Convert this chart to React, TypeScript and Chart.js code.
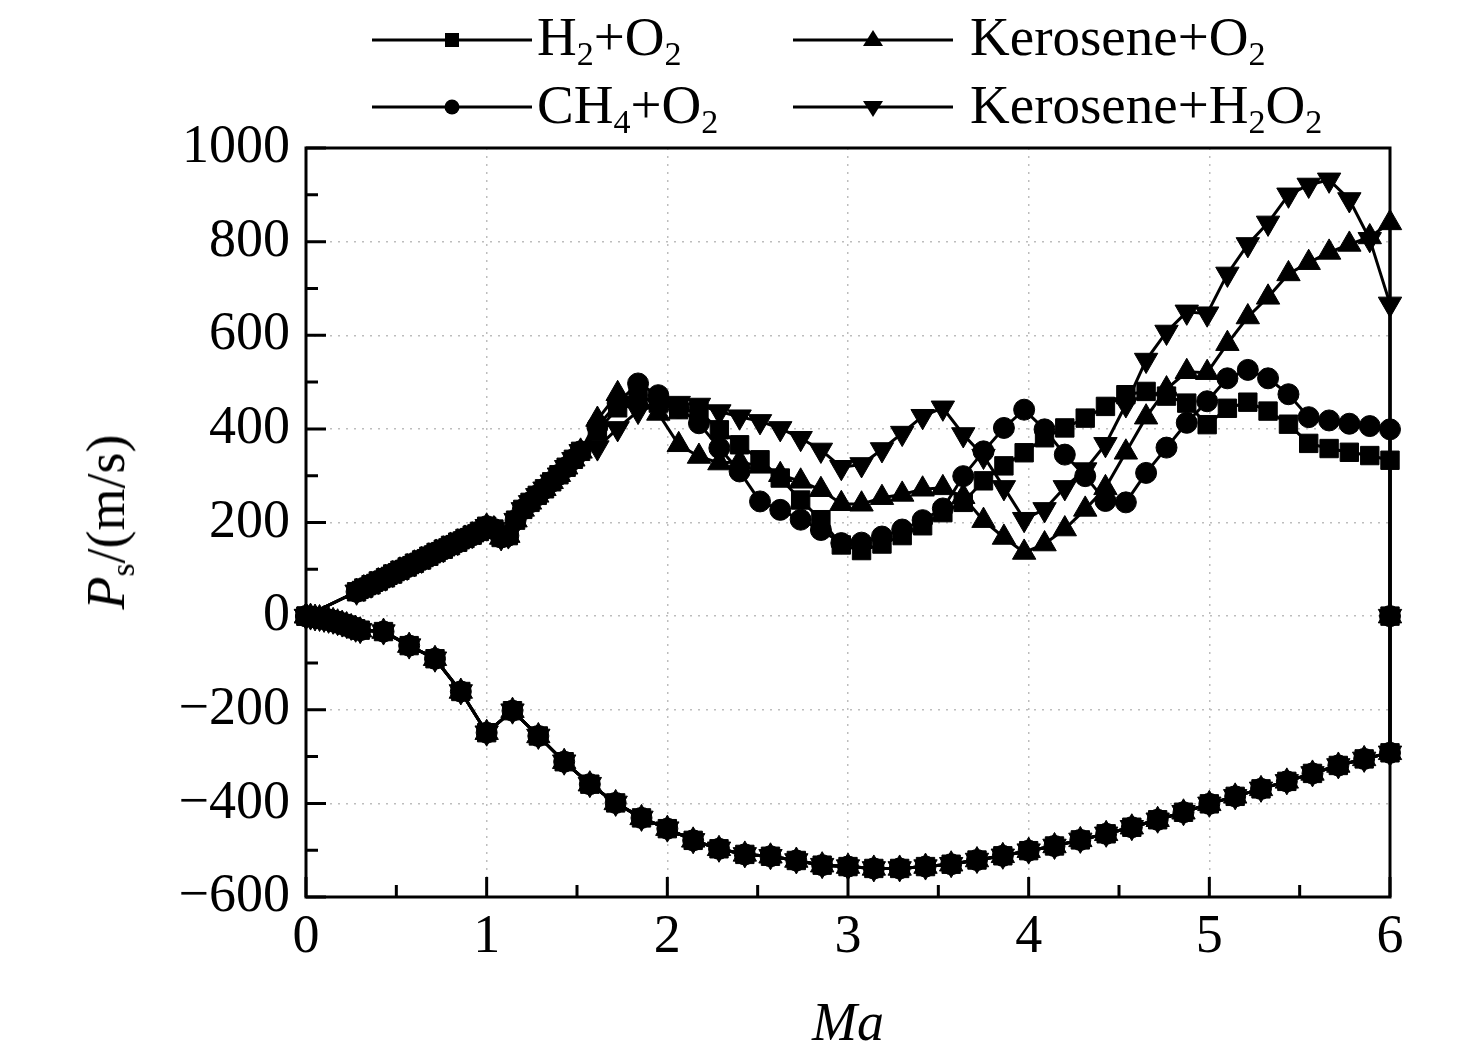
import React, { useEffect, useRef } from 'react';
import { Chart, registerables } from 'chart.js';

Chart.register(...registerables);

// axis ticks
const X_TICKS = [0, 1, 2, 3, 4, 5, 6];
const X_MINOR = [0.5, 1.5, 2.5, 3.5, 4.5, 5.5];
const Y_TICKS = [-600, -400, -200, 0, 200, 400, 600, 800, 1000];
const Y_MINOR = [-500, -300, -100, 100, 300, 500, 700, 900];

// lower branch (all four mixtures coincide), dense start
const lowDenseMa = [0, 0.025, 0.05, 0.075, 0.1, 0.125, 0.15, 0.175, 0.2, 0.225, 0.25, 0.275, 0.3];
const lowDensePs = [0, -1, -3, -4, -6, -8, -10, -13, -16, -19, -23, -27, -30];

// lower branch, coarse part
const lowMa = [0.429, 0.571, 0.714, 0.857, 1.0, 1.143, 1.286, 1.429, 1.571, 1.714, 1.857, 2.0, 2.143, 2.286,
  2.429, 2.571, 2.714, 2.857, 3.0, 3.143, 3.286, 3.429, 3.571, 3.714, 3.857, 4.0, 4.143, 4.286, 4.429,
  4.571, 4.714, 4.857, 5.0, 5.143, 5.286, 5.429, 5.571, 5.714, 5.857, 6.0];
const lowPs = [-33, -63, -91, -161, -249, -202, -256, -311, -359, -399, -431, -454, -479, -497,
  -509, -513, -522, -532, -535, -539, -539, -535, -530, -521, -512, -501, -491, -478, -465,
  -451, -435, -419, -401, -385, -369, -353, -336, -319, -305, -292];

// turning point at Ma = 6
const turnMa = [6];
const turnPs = [0];

// upper branch, common dense part
const upDenseMa = [0.28, 0.32, 0.36, 0.40, 0.44, 0.48, 0.52, 0.56, 0.60, 0.64, 0.68, 0.72, 0.76, 0.80,
  0.84, 0.88, 0.92, 0.96, 1.00, 1.04, 1.08, 1.12, 1.16, 1.20, 1.24, 1.28, 1.32, 1.36, 1.40, 1.44, 1.48, 1.52];
const upDensePs = [52, 60, 67, 75, 82, 90, 98, 105, 113, 120, 128, 136, 143, 151,
  158, 166, 173, 181, 192, 186, 168, 172, 205, 228, 243, 258, 272, 287, 302, 318, 335, 352];

// upper branch, per mixture
const upMa = [1.613, 1.725, 1.838, 1.95, 2.063, 2.175, 2.288, 2.4, 2.513, 2.625, 2.738, 2.85, 2.963,
  3.075, 3.188, 3.3, 3.413, 3.525, 3.638, 3.75, 3.863, 3.975, 4.088, 4.2, 4.313, 4.425, 4.538, 4.65,
  4.763, 4.875, 4.988, 5.1, 5.213, 5.325, 5.438, 5.55, 5.663, 5.775, 5.888, 6.0];
const h2Ps = [395, 445, 470, 455, 441, 437, 398, 366, 334, 295, 248, 206, 152,
  140, 154, 172, 193, 221, 243, 289, 321, 349, 381, 402, 423, 448, 473, 480,
  470, 455, 409, 444, 457, 438, 410, 369, 358, 350, 343, 333];
const ch4Ps = [405, 455, 497, 472, 445, 412, 359, 309, 245, 227, 206, 184, 156,
  157, 170, 185, 205, 230, 299, 352, 402, 441, 399, 345, 299, 246, 243, 306,
  360, 413, 459, 508, 526, 508, 474, 425, 418, 411, 406, 399];
const keroO2Ps = [420, 475, 460, 433, 366, 341, 327, 330, 320, 302, 288, 270, 240,
  239, 253, 260, 271, 274, 255, 204, 168, 136, 154, 186, 228, 274, 350, 425,
  485, 522, 520, 582, 639, 681, 731, 755, 777, 794, 810, 840];
const keroH2o2Ps = [360, 401, 438, 451, 455, 451, 437, 426, 416, 401, 380, 355, 318,
  324, 356, 391, 427, 445, 388, 342, 275, 207, 228, 275, 313, 367, 452, 547,
  607, 650, 646, 731, 794, 840, 900, 921, 932, 890, 805, 667];

const SERIF = '"Liberation Serif", "Times New Roman", serif';

const buildPoints = (upper: number[]) => {
  const pts: { x: number; y: number }[] = [];
  lowDenseMa.forEach((m, i) => pts.push({ x: m, y: lowDensePs[i] }));
  lowMa.forEach((m, i) => pts.push({ x: m, y: lowPs[i] }));
  turnMa.forEach((m, i) => pts.push({ x: m, y: turnPs[i] }));
  for (let i = upMa.length - 1; i >= 0; i--) pts.push({ x: upMa[i], y: upper[i] });
  for (let i = upDenseMa.length - 1; i >= 0; i--) pts.push({ x: upDenseMa[i], y: upDensePs[i] });
  pts.push({ x: lowDenseMa[0], y: lowDensePs[0] });
  return pts;
};

const framePlugin = {
  id: 'frame',
  beforeDatasetsDraw(chart: any) {
    const { ctx, chartArea, scales } = chart;
    const { left, right, top, bottom } = chartArea;
    ctx.save();
    ctx.strokeStyle = '#000';
    ctx.lineWidth = 3;
    ctx.beginPath();
    X_TICKS.forEach((v) => {
      const px = scales.x.getPixelForValue(v);
      ctx.moveTo(px, bottom);
      ctx.lineTo(px, bottom - 20);
    });
    X_MINOR.forEach((v) => {
      const px = scales.x.getPixelForValue(v);
      ctx.moveTo(px, bottom);
      ctx.lineTo(px, bottom - 12);
    });
    Y_TICKS.forEach((v) => {
      const py = scales.y.getPixelForValue(v);
      ctx.moveTo(left, py);
      ctx.lineTo(left + 20, py);
    });
    Y_MINOR.forEach((v) => {
      const py = scales.y.getPixelForValue(v);
      ctx.moveTo(left, py);
      ctx.lineTo(left + 12, py);
    });
    ctx.stroke();
    ctx.strokeRect(left, top, right - left, bottom - top);
    ctx.restore();
  },
};

const gridColor = (c: any) =>
  c.tick && (c.index === 0 || c.index === c.scale.ticks.length - 1) ? 'rgba(0,0,0,0)' : '#bdbdbd';

const LegendMark: React.FC<{ kind: string }> = ({ kind }) => {
  let mark: React.ReactNode = null;
  if (kind === 'rect') mark = <rect x={73} y={8} width={14} height={14} fill="#000" />;
  if (kind === 'circle') mark = <circle cx={80} cy={15} r={7.5} fill="#000" />;
  if (kind === 'up') mark = <polygon points="80,5 90,21 70,21" fill="#000" />;
  if (kind === 'down') mark = <polygon points="80,25 90,9 70,9" fill="#000" />;
  return (
    <svg width={160} height={30} style={{ display: 'block' }}>
      <line x1={0} y1={15} x2={160} y2={15} stroke="#000" strokeWidth={3} />
      {mark}
    </svg>
  );
};

const subStyle: React.CSSProperties = { fontSize: '0.62em', verticalAlign: '-0.3em', lineHeight: 0 };

const App: React.FC = () => {
  const canvasRef = useRef<HTMLCanvasElement>(null);
  const chartRef = useRef<Chart | null>(null);

  useEffect(() => {
    if (!canvasRef.current) return;
    const common = {
      borderColor: '#000',
      backgroundColor: '#000',
      borderWidth: 3,
      pointBackgroundColor: '#000',
      pointBorderColor: '#000',
      pointBorderWidth: 1,
      tension: 0,
      clip: false as const,
    };
    chartRef.current = new Chart(canvasRef.current, {
      type: 'line',
      data: {
        datasets: [
          { ...common, label: 'H2+O2', data: buildPoints(h2Ps), pointStyle: 'rect', pointRadius: 13 },
          { ...common, label: 'CH4+O2', data: buildPoints(ch4Ps), pointStyle: 'circle', pointRadius: 10.5 },
          { ...common, label: 'Kerosene+O2', data: buildPoints(keroO2Ps), pointStyle: 'triangle', pointRadius: 13.5 },
          { ...common, label: 'Kerosene+H2O2', data: buildPoints(keroH2o2Ps), pointStyle: 'triangle', pointRotation: 180, pointRadius: 13.5 },
        ],
      },
      options: {
        animation: false,
        responsive: true,
        maintainAspectRatio: false,
        layout: { padding: { left: 0, top: 148, right: 86, bottom: 0 } },
        plugins: { legend: { display: false }, tooltip: { enabled: false } },
        scales: {
          x: {
            type: 'linear',
            min: 0,
            max: 6,
            afterBuildTicks: (s: any) => { s.ticks = X_TICKS.map((v) => ({ value: v })); },
            afterFit: (s: any) => { s.height = 160; },
            grid: { drawTicks: false, color: gridColor, lineWidth: 1.5 },
            border: { display: false, dash: [2, 6] },
            ticks: { color: '#000', font: { family: SERIF, size: 54 }, padding: 8, maxRotation: 0, autoSkip: false },
          },
          y: {
            type: 'linear',
            min: -600,
            max: 1000,
            afterBuildTicks: (s: any) => { s.ticks = Y_TICKS.map((v) => ({ value: v })); },
            afterFit: (s: any) => { s.width = 306; },
            grid: { drawTicks: false, color: gridColor, lineWidth: 1.5 },
            border: { display: false, dash: [2, 6] },
            ticks: {
              color: '#000',
              font: { family: SERIF, size: 54 },
              padding: 16,
              autoSkip: false,
              callback: (v: any) => String(v).replace('-', '\u2212'),
            },
          },
        },
      },
      plugins: [framePlugin],
    });
    return () => {
      if (chartRef.current) {
        chartRef.current.destroy();
        chartRef.current = null;
      }
    };
  }, []);

  const text: React.CSSProperties = {
    position: 'absolute',
    fontFamily: SERIF,
    fontSize: 55,
    lineHeight: '55px',
    whiteSpace: 'nowrap',
    color: '#000',
  };

  return (
    <div style={{ position: 'absolute', left: 0, top: 0, width: 1476, height: 1057, background: '#fff' }}>
      <canvas ref={canvasRef}></canvas>

      {/* legend */}
      <div style={{ position: 'absolute', left: 372, top: 25 }}><LegendMark kind="rect" /></div>
      <div style={{ ...text, left: 537, top: 9 }}>H<sub style={subStyle}>2</sub>+O<sub style={subStyle}>2</sub></div>
      <div style={{ position: 'absolute', left: 793, top: 25 }}><LegendMark kind="up" /></div>
      <div style={{ ...text, left: 970, top: 9 }}>Kerosene+O<sub style={subStyle}>2</sub></div>
      <div style={{ position: 'absolute', left: 372, top: 92 }}><LegendMark kind="circle" /></div>
      <div style={{ ...text, left: 537, top: 77 }}>CH<sub style={subStyle}>4</sub>+O<sub style={subStyle}>2</sub></div>
      <div style={{ position: 'absolute', left: 793, top: 92 }}><LegendMark kind="down" /></div>
      <div style={{ ...text, left: 970, top: 77 }}>Kerosene+H<sub style={subStyle}>2</sub>O<sub style={subStyle}>2</sub></div>

      {/* axis titles */}
      <div
        style={{
          ...text,
          fontSize: 54,
          lineHeight: '54px',
          left: 106,
          top: 522,
          transform: 'translate(-50%, -50%) rotate(-90deg)',
        }}
      >
        <i>P</i><sub style={subStyle}>s</sub>/(m/s)
      </div>
      <div style={{ ...text, fontSize: 54, lineHeight: '54px', left: 848, top: 995, transform: 'translateX(-50%)' }}>
        <i>Ma</i>
      </div>
    </div>
  );
};

export default App;
